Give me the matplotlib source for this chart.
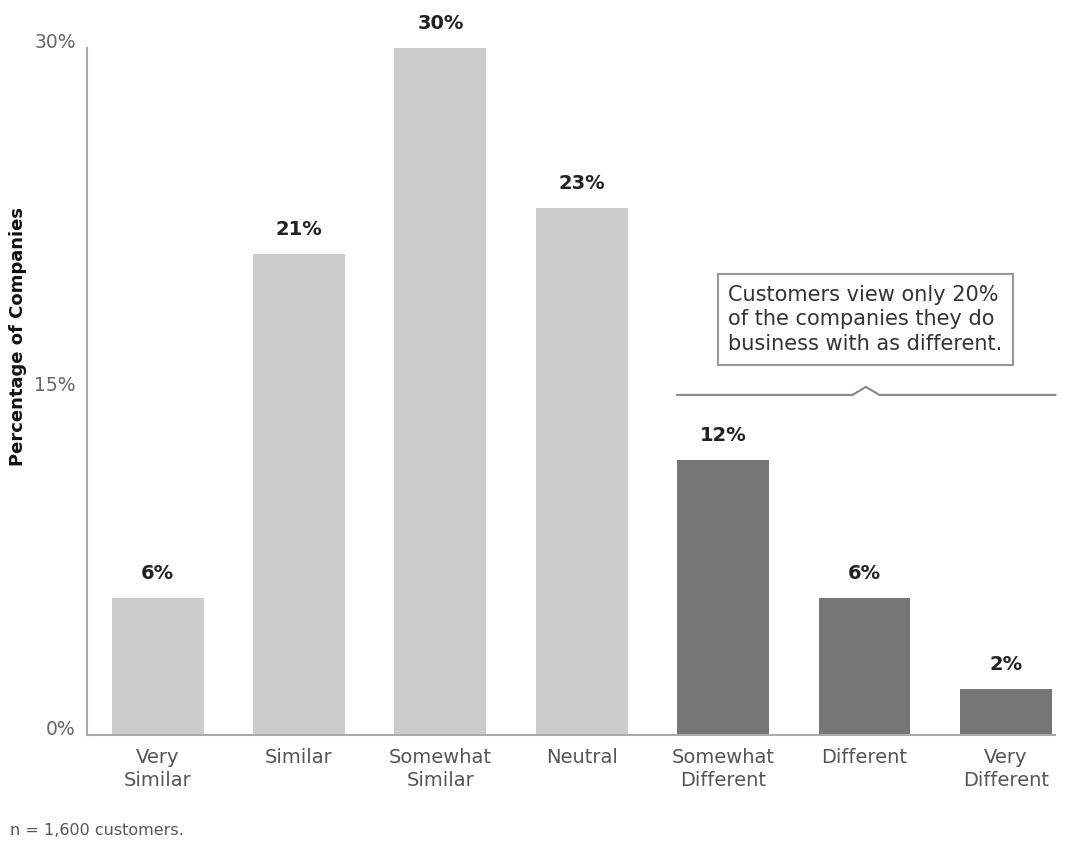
import matplotlib.pyplot as plt
import numpy as np

categories = ["Very\nSimilar", "Similar", "Somewhat\nSimilar", "Neutral",
              "Somewhat\nDifferent", "Different", "Very\nDifferent"]
values = [6, 21, 30, 23, 12, 6, 2]
value_labels = ["6%", "21%", "30%", "23%", "12%", "6%", "2%"]
groups = ["similar", "similar", "similar", "similar", "different", "different", "different"]
yticks = [0, 15, 30]
ytick_labels = ["0%", "15%", "30%"]

plt.rcParams['font.family'] = ['DejaVu Sans']

fig = plt.figure(figsize=(10.66, 8.41), dpi=100)
ax = fig.add_axes([0.0816, 0.126, 0.9084, 0.817])

colors = {"similar": "#cccccc", "different": "#767676"}
x = np.arange(len(categories))
ax.bar(x, values, width=0.65, color=[colors[g] for g in groups], zorder=2)

for xi, v, lab in zip(x, values, value_labels):
    ax.text(xi, v + 0.65, lab, ha='center', va='bottom', fontsize=14,
            fontweight='bold', color='#222222')

ax.set_xlim(-0.5, 6.35)
ax.set_ylim(0, 30)
ax.set_xticks(x)
ax.set_xticklabels(categories, fontsize=14, color='#555555', linespacing=1.3)
ax.set_yticks(yticks)
ax.set_yticklabels(ytick_labels, fontsize=13.5, color='#666666')
ax.tick_params(axis='x', length=0, pad=9)
ax.tick_params(axis='y', length=0, pad=8)
for lbl in ax.get_yticklabels():
    lbl.set_verticalalignment('baseline')

for s in ['top', 'right']:
    ax.spines[s].set_visible(False)
ax.spines['left'].set_color('#aaaaaa')
ax.spines['bottom'].set_color('#aaaaaa')
ax.spines['left'].set_linewidth(1.5)
ax.spines['bottom'].set_linewidth(1.5)

ax.set_ylabel("Percentage of Companies", fontsize=13, fontweight='bold',
              color='#111111')
ax.yaxis.set_label_coords(-0.062, 0.58)

# bracket over "different" group
bx0, bx1 = 3.675, 6.35
peak = 5.01
by = 14.85
ax.plot([bx0, peak - 0.095, peak, peak + 0.095, bx1],
        [by, by, by + 0.35, by, by], color='#888888', lw=1.5,
        solid_joinstyle='miter', clip_on=False)

ax.text(5.005, 18.15,
        "Customers view only 20%\nof the companies they do\nbusiness with as different.",
        ha='center', va='center', multialignment='left', fontsize=15,
        color='#333333', linespacing=1.3,
        bbox=dict(boxstyle='square,pad=0.5', fc='white', ec='#999999', lw=1.5))

fig.text(0.009, 0.004, "n = 1,600 customers.", fontsize=11.5, color='#555555',
         ha='left', va='bottom')

fig.savefig("out.png", dpi=100)
